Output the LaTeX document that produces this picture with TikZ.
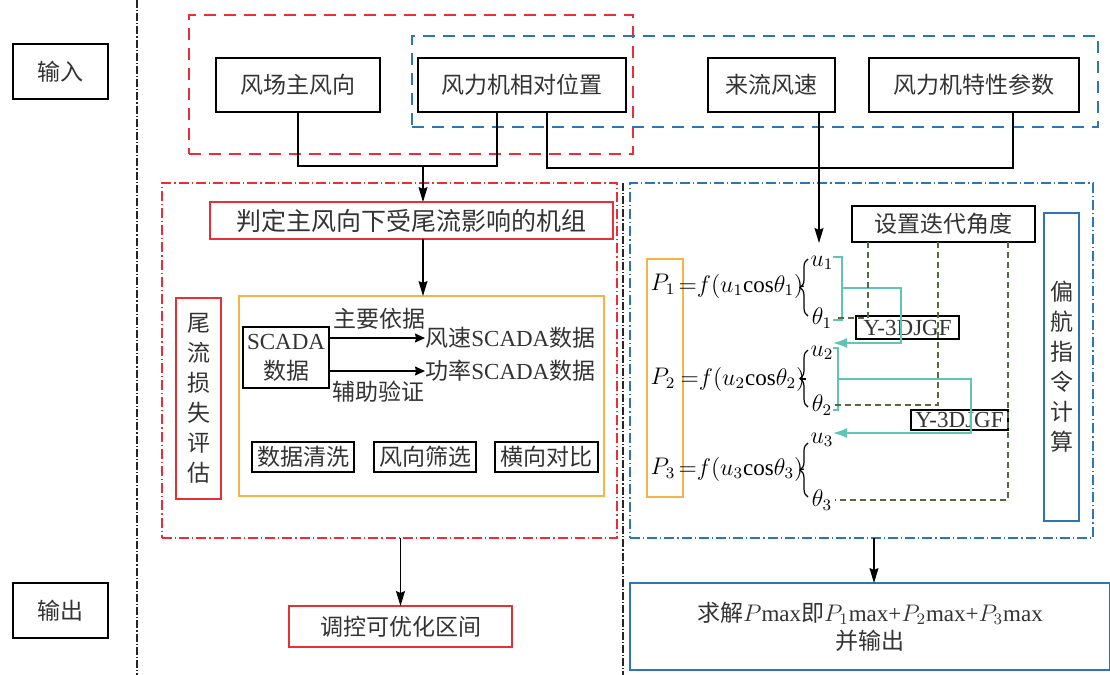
\documentclass[tikz,border=0pt]{standalone}
\usepackage{fontspec}
\setmainfont{Liberation Serif}
\newfontfamily\zhfont{Noto Sans CJK SC}
\usetikzlibrary{arrows.meta,decorations.pathreplacing}
\definecolor{boxred}{RGB}{232,46,54}
\definecolor{boxblue}{RGB}{46,117,182}
\definecolor{boxorange}{RGB}{246,180,70}
\definecolor{flowteal}{RGB}{96,198,180}
\definecolor{iterolive}{RGB}{86,104,62}
\tikzstyle{arrow} = [line width=0.6pt,-{Stealth[length=7.5pt,width=4.5pt,inset=1pt]}]
\tikzstyle{smallarrow} = [line width=0.6pt,-{Stealth[length=5pt,width=4.5pt,inset=0.5pt]}]
\tikzstyle{tealarrow} = [flowteal,line width=0.8pt,-{Latex[length=7pt,width=5pt]}]
\tikzstyle{tealline} = [flowteal,line width=0.8pt]
\tikzstyle{iterdash} = [iterolive,line width=0.7pt,dash pattern=on 3pt off 2pt]
\tikzstyle{box} = [draw,line width=0.8pt,inner sep=0pt,outer sep=0pt,align=center,text=black!80]
\tikzstyle{redbox} = [box,draw=boxred]
\tikzstyle{bluebox} = [box,draw=boxblue]
\tikzstyle{orangebox} = [box,draw=boxorange]
\tikzstyle{vtext} = [font=\fontsize{11.5}{15}\selectfont\zhfont]
\tikzstyle{groupdash} = [line width=0.8pt,inner sep=0pt,outer sep=0pt,dash pattern=on 6pt off 4pt]
\tikzstyle{region} = [line width=0.8pt,inner sep=0pt,outer sep=0pt,dash pattern=on 5pt off 1.5pt on 0.6pt off 1.5pt]
\tikzstyle{divider} = [black!85,line width=0.7pt,dash pattern=on 4pt off 1pt on 0.6pt off 1pt]

\begin{document}
\begin{tikzpicture}[x=0.5pt,y=-0.5pt,font=\fontsize{11.5}{15}\selectfont]
    \useasboundingbox (0,0) rectangle (1110,675);

    % dividers
    \draw [divider] (137,0) -- (137,675);
    \draw [divider] (623,183) -- (623,675);

    \node (in) [box, minimum width=47.5pt, minimum height=27.5pt] at (60.5,71.5) {\zhfont 输入};
    \node (out) [box, minimum width=47.5pt, minimum height=27.5pt] at (60.5,610.5) {\zhfont 输出};

    % inputs
    \node (topred) [groupdash, draw=boxred, minimum width=222pt, minimum height=69.5pt] at (411,84.5) {};
    \node (topblue) [groupdash, draw=boxblue, minimum width=343pt, minimum height=45.5pt] at (755,81.5) {};
    \node (dir) [box, minimum width=82pt, minimum height=27pt] at (298,85) {\zhfont 风场主风向};
    \node (pos) [box, minimum width=104pt, minimum height=27pt] at (522,85) {\zhfont 风力机相对位置};
    \node (speed) [box, minimum width=63.5pt, minimum height=27pt] at (771.5,85) {\zhfont 来流风速};
    \node (param) [box, minimum width=105pt, minimum height=27pt] at (974,85) {\zhfont 风力机特性参数};

    % regions
    \node (leftreg) [region, draw=boxred, minimum width=227.5pt, minimum height=177.5pt] at (389.5,360.5) {};
    \node (rightreg) [region, draw=boxblue, minimum width=231.5pt, minimum height=177.5pt] at (861.5,360.5) {};

    \coordinate (merge) at (423,166);
    \coordinate (posl) at (497,112);
    \coordinate (posr) at (547,112);
    \coordinate (parj) at (1013,168);
    \draw [line width=0.6pt] (dir.south) |- (merge) -| (posl);
    \draw [line width=0.6pt] (posr) |- (parj) -- (parj |- param.south);
    \draw [arrow] (merge) -- (merge |- 0,202);

    % wake loss side
    \node (judge) [redbox, minimum width=201.5pt, minimum height=18.5pt, font=\fontsize{12.5}{15}\selectfont] at (411.5,220.5) {\zhfont 判定主风向下受尾流影响的机组};
    \node (data) [orangebox, minimum width=182.5pt, minimum height=100pt] at (421.5,396) {};
    \node (wake) [redbox, vtext, minimum width=22.5pt, minimum height=100.5pt] at (198.5,398.5) {尾\\流\\损\\失\\评\\估};
    \draw [arrow] (merge |- judge.south) -- (merge |- data.north);

    \node (scada) [box, minimum width=43pt, minimum height=30.5pt] at (286,357.5) {SCADA\\\zhfont 数据};
    \node (ws) [anchor=west, inner sep=0pt, text=black!80] at (425,338) {{\zhfont 风速}SCADA{\zhfont 数据}};
    \node (pw) [anchor=west, inner sep=0pt, text=black!80] at (425,371) {{\zhfont 功率}SCADA{\zhfont 数据}};
    \node (mainref) [text=black!80] at (379,319) {\zhfont 主要依据};
    \node (auxref) [text=black!80] at (378,392) {\zhfont 辅助验证};
    \draw [smallarrow] (scada.east |- ws) -- (ws.west);
    \draw [smallarrow] (scada.east |- pw) -- (pw.west);

    \node (clean) [box, minimum width=51pt, minimum height=15pt] at (303,457) {\zhfont 数据清洗};
    \node (filter) [box, minimum width=51pt, minimum height=15pt] at (425,457) {\zhfont 风向筛选};
    \node (compare) [box, minimum width=51.5pt, minimum height=15pt] at (546.5,457) {\zhfont 横向对比};

    % yaw side
    \node (setang) [box, minimum width=91.5pt, minimum height=18pt] at (943.5,224) {\zhfont 设置迭代角度};
    \node (yaw) [bluebox, vtext, minimum width=17.5pt, minimum height=154pt] at (1061.5,367) {偏\\航\\指\\令\\计\\算};
    \node (pcol) [orangebox, minimum width=18pt, minimum height=119pt] at (665,378) {};
    \node (P1) at (663,284) {$P_1$};
    \node (P2) at (663,378) {$P_2$};
    \node (P3) at (663,468) {$P_3$};
    \node (f1) [inner sep=0pt] at (741,286) {${=}f(u_1\mathrm{cos}\theta_1)$};
    \node (f2) [inner sep=0pt] at (743,379) {${=}f(u_2\mathrm{cos}\theta_2)$};
    \node (f3) [inner sep=0pt] at (741,469) {${=}f(u_3\mathrm{cos}\theta_3)$};

    \node (u1) [inner sep=1pt] at (822,263) {$u_1$};
    \node (t1) [inner sep=1pt] at (822,318) {$\theta_1$};
    \node (u2) [inner sep=1pt] at (822,353) {$u_2$};
    \node (t2) [inner sep=1pt] at (822,405) {$\theta_2$};
    \node (u3) [inner sep=1pt] at (822,440) {$u_3$};
    \node (t3) [inner sep=1pt] at (822,500) {$\theta_3$};

    \coordinate (b1) at (800,287);
    \coordinate (b2) at (800,379);
    \coordinate (b3) at (800,470);
    \draw [line width=0.6pt, decorate, decoration={brace, amplitude=4pt}] (808,316) -- (808,259);
    \draw [line width=0.6pt, decorate, decoration={brace, amplitude=4pt}] (808,407) -- (808,350);
    \draw [line width=0.6pt, decorate, decoration={brace, amplitude=4pt}] (808,497) -- (808,443);
    \draw [line width=0.6pt] (f1.east) -- (b1);
    \draw [line width=0.6pt] (f2.east) -- (b2);
    \draw [line width=0.6pt] (f3.east) -- (b3);

    \coordinate (u2in) at (833,343);
    \coordinate (u3in) at (833,433);
    \draw [arrow] (speed.south -| 819,0) -- (819,243);

    \node (yb1) [box, minimum width=51.5pt, minimum height=11.5pt] at (907.5,327.5) {Y-3DJGF};
    \node (yb2) [box, minimum width=48.5pt, minimum height=10pt] at (959.5,420) {Y-3DJGF};

    \draw [tealline] (833,257) -| (842,320) -- (833,320);
    \draw [tealarrow] (842,288) -| (901,343) -- (u2in);
    \draw [tealline] (833,348) -| (838,410) -- (833,410);
    \draw [tealarrow] (838,379) -| (971,433) -- (u3in);

    \draw [iterdash] ([xshift=-37.75pt]setang.south) |- (t1.east);
    \draw [iterdash] ([xshift=-2.75pt]setang.south) |- (t2.east);
    \draw [iterdash] ([xshift=32.25pt]setang.south) |- (t3.east);

    % outputs
    \node (ctrl) [redbox, minimum width=111.5pt, minimum height=20.5pt] at (400.5,626.5) {\zhfont 调控可优化区间};
    \node (solve) [bluebox, minimum width=240pt, minimum height=43.5pt] at (870,626.5) {{\zhfont 求解}$P$max{\zhfont 即}$P_1$max+$P_2$max+$P_3$max\\[-1pt]\zhfont 并输出};
    \draw [arrow] (ctrl.north |- leftreg.south) -- (ctrl.north);
    \draw [arrow] ([xshift=6.25pt]rightreg.south) -- ([xshift=6.25pt]rightreg.south |- solve.north);
  \end{tikzpicture}
\end{document}
